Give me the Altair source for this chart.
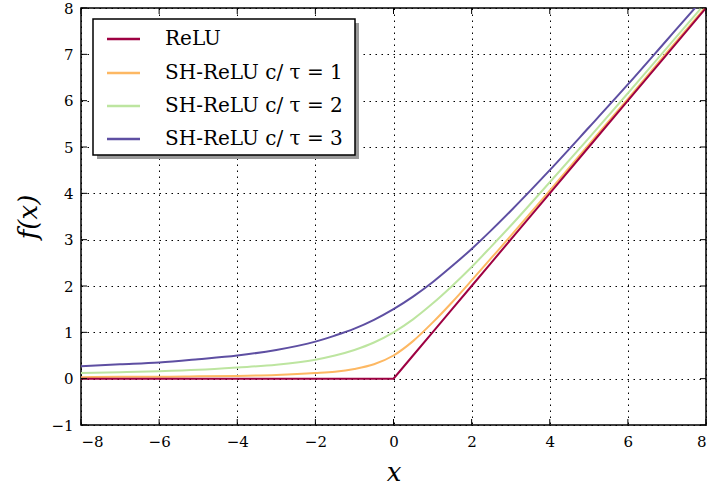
import altair as alt
import pandas as pd

# ---- data ----
x_vals = [-8, -7, -6, -5, -4, -3, -2, -1.5, -1, -0.5, 0, 0.5, 1, 1.5, 2, 2.5, 3, 4, 5, 6, 7, 8]
relu = [0, 0, 0, 0, 0, 0, 0, 0, 0, 0, 0, 0.5, 1, 1.5, 2, 2.5, 3, 4, 5, 6, 7, 8]
tau1 = [0.03, 0.04, 0.04, 0.05, 0.06, 0.08, 0.12, 0.15, 0.21, 0.31, 0.50, 0.81, 1.21, 1.65, 2.12, 2.60, 3.08, 4.06, 5.05, 6.04, 7.04, 8.03]
tau2 = [0.12, 0.14, 0.16, 0.19, 0.24, 0.30, 0.41, 0.50, 0.62, 0.78, 1.00, 1.28, 1.62, 2.00, 2.41, 2.85, 3.30, 4.24, 5.19, 6.16, 7.14, 8.12]
tau3 = [0.27, 0.31, 0.35, 0.42, 0.50, 0.62, 0.80, 0.93, 1.08, 1.27, 1.50, 1.77, 2.08, 2.43, 2.80, 3.20, 3.62, 4.50, 5.42, 6.35, 7.31, 8.27]

series_names = ["ReLU", "SH-ReLU c/ τ = 1", "SH-ReLU c/ τ = 2", "SH-ReLU c/ τ = 3"]
series_colors = ["#9e0142", "#fdb863", "#bde5a0", "#5e4fa2"]
x_ticks = [-8, -6, -4, -2, 0, 2, 4, 6, 8]
y_ticks = [-1, 0, 1, 2, 3, 4, 5, 6, 7, 8]

FONT = "DejaVu Serif"
W, H = 625, 417

rows = []
for name, ys in zip(series_names, [relu, tau1, tau2, tau3]):
    for xv, yv in zip(x_vals, ys):
        rows.append({"x": xv, "y": yv, "series": name})
df = pd.DataFrame(rows)

color = alt.Color("series:N", scale=alt.Scale(domain=series_names, range=series_colors), legend=None)
xenc = alt.X("x:Q", scale=alt.Scale(domain=[-8, 8], nice=False, zero=False),
             axis=alt.Axis(values=x_ticks, title="x", grid=True, ticks=False, domain=False,
                           gridColor="black", gridOpacity=1, gridDash=[1.5, 4.5], gridWidth=1,
                           labelFont=FONT, labelFontSize=15, labelColor="black", labelPadding=9,
                           titleFont=FONT, titleFontSize=26, titleFontStyle="italic",
                           titleFontWeight="normal", titleColor="black", titlePadding=10))
yenc = alt.Y("y:Q", scale=alt.Scale(domain=[-1, 8], nice=False, zero=False),
             axis=alt.Axis(values=y_ticks, title="f(x)", grid=True, ticks=False, domain=False,
                           gridColor="black", gridOpacity=1, gridDash=[1.5, 4.5], gridWidth=1,
                           labelFont=FONT, labelFontSize=15, labelColor="black", labelPadding=8,
                           titleFont=FONT, titleFontSize=26, titleFontStyle="italic",
                           titleFontWeight="normal", titleColor="black", titlePadding=9))

curves = alt.Chart(df[df.series != "ReLU"]).mark_line(strokeWidth=2, clip=True, interpolate="monotone").encode(
    x=xenc, y=yenc, color=color)
relu_line = alt.Chart(df[df.series == "ReLU"]).mark_line(strokeWidth=2, clip=True).encode(
    x="x:Q", y="y:Q", color=color)

xt = pd.DataFrame({"x": x_ticks})
yt = pd.DataFrame({"y": y_ticks})
tick_b = alt.Chart(xt).mark_rule(color="black", strokeWidth=1).encode(x="x:Q", y=alt.value(H), y2=alt.value(H - 6))
tick_t = alt.Chart(xt).mark_rule(color="black", strokeWidth=1).encode(x="x:Q", y=alt.value(0), y2=alt.value(6))
tick_l = alt.Chart(yt).mark_rule(color="black", strokeWidth=1).encode(y="y:Q", x=alt.value(0), x2=alt.value(6))
tick_r = alt.Chart(yt).mark_rule(color="black", strokeWidth=1).encode(y="y:Q", x=alt.value(W), x2=alt.value(W - 6))

one = pd.DataFrame({"a": [0]})
shadow = alt.Chart(one).mark_rect(color="#9a9a9a").encode(
    x=alt.value(16), x2=alt.value(278), y=alt.value(15), y2=alt.value(151))
box = alt.Chart(one).mark_rect(fill="white", stroke="black", strokeWidth=1.5).encode(
    x=alt.value(12), x2=alt.value(274), y=alt.value(11), y2=alt.value(147))
legend_layers = [shadow, box]
row_y = [31, 65, 98, 131]
for name, col, ry in zip(series_names, series_colors, row_y):
    legend_layers.append(alt.Chart(one).mark_rule(color=col, strokeWidth=2.5).encode(
        x=alt.value(26), x2=alt.value(59), y=alt.value(ry)))
    legend_layers.append(alt.Chart(one).mark_text(text=name, align="left", baseline="middle",
                                                  font=FONT, fontSize=20, color="black").encode(
        x=alt.value(84), y=alt.value(ry)))

chart = alt.layer(curves, relu_line, tick_b, tick_t, tick_l, tick_r, *legend_layers).properties(
    width=W, height=H,
    autosize=alt.AutoSizeParams(type="none"),
    padding={"left": 81, "top": 8, "right": 2, "bottom": 66},
    background="white",
).configure_view(stroke="black", strokeWidth=1.5)

chart.save("out.html", embed_options={"renderer": "svg", "actions": False})
